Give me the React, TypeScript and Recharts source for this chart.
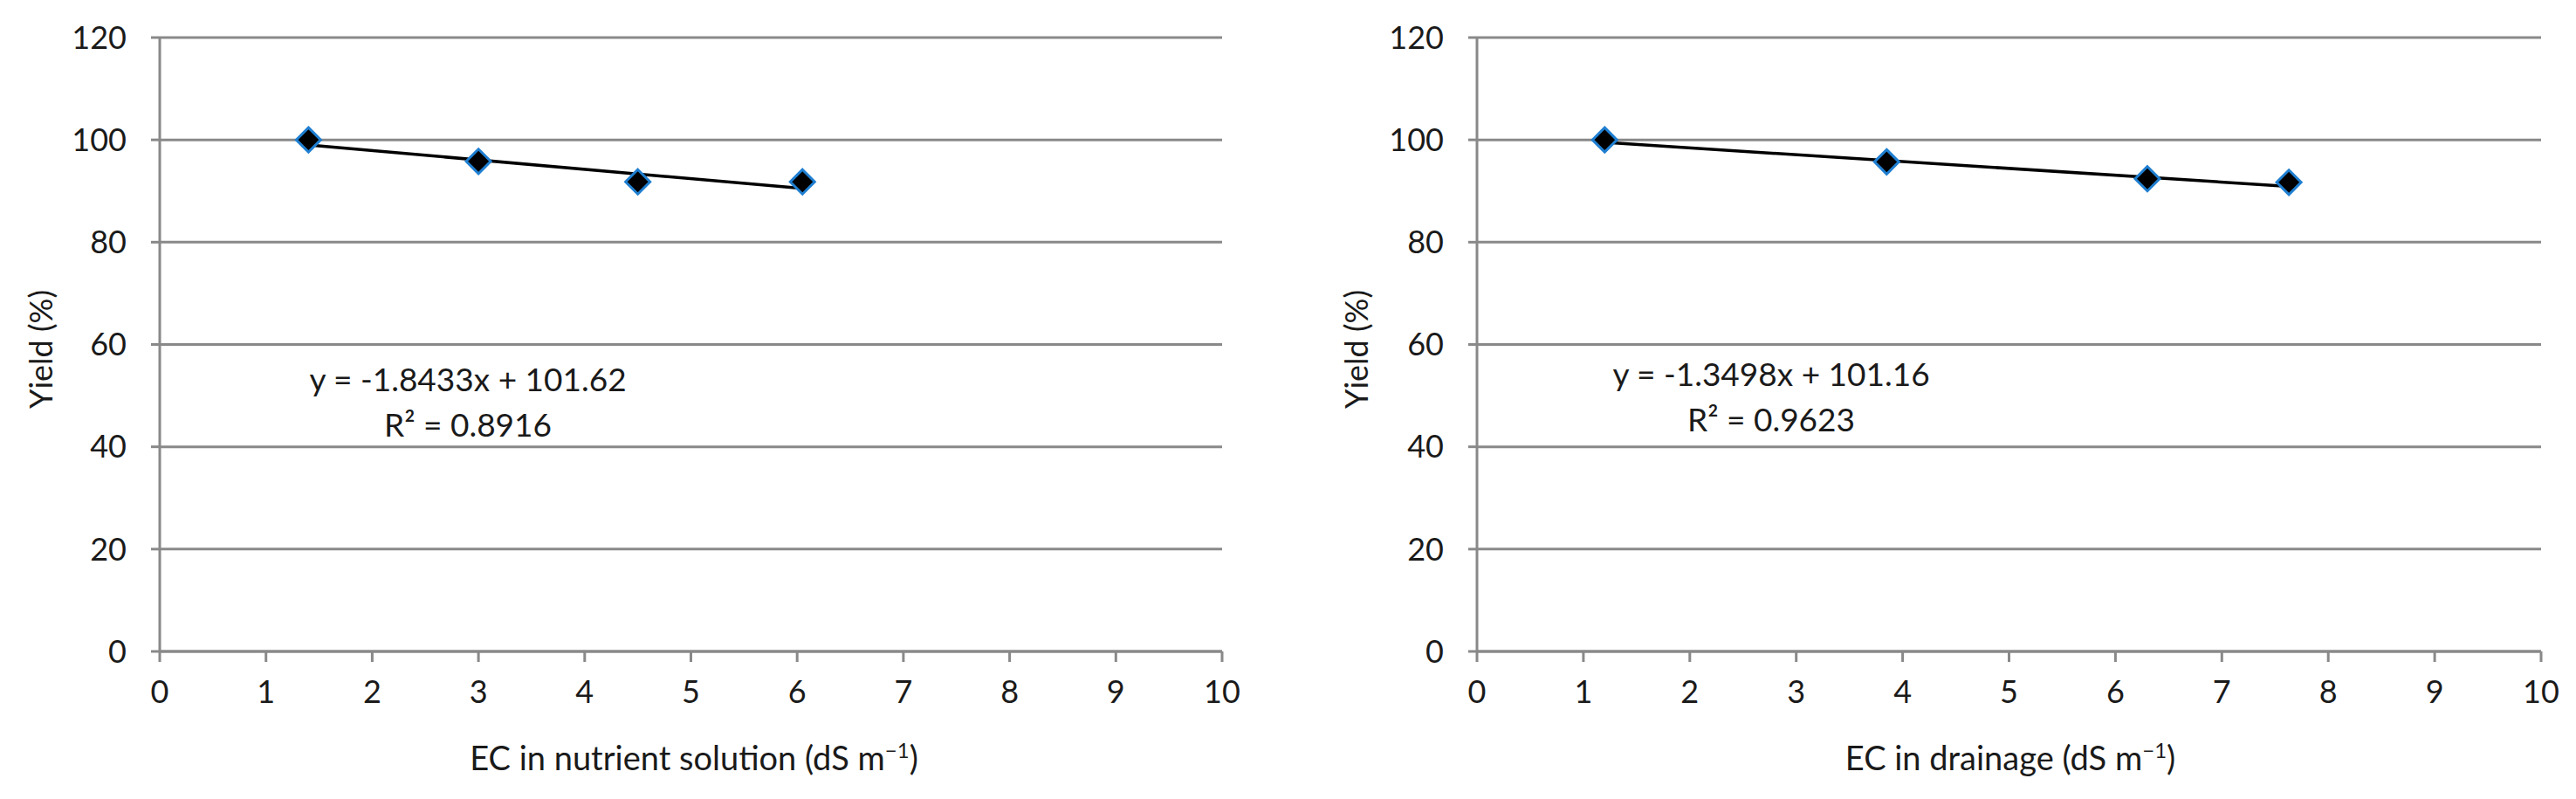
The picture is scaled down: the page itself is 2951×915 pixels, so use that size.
import { ScatterChart, Scatter, XAxis, YAxis, CartesianGrid } from 'recharts';

const xTicks = [0, 1, 2, 3, 4, 5, 6, 7, 8, 9, 10];
const yTicks = [0, 20, 40, 60, 80, 100, 120];

const solutionEC = [1.4, 3.0, 4.5, 6.05];
const solutionYield = [100, 95.8, 91.8, 91.8];
const drainageEC = [1.2, 3.85, 6.3, 7.63];
const drainageYield = [100, 95.7, 92.4, 91.7];

// ends of the fitted trendlines as drawn in the figure
const solutionTrendEC = [1.4, 6.05];
const solutionTrendYield = [99.0, 90.5];
const drainageTrendEC = [1.2, 7.63];
const drainageTrendYield = [99.5, 90.9];

const solutionEquation = 'y = -1.8433x + 101.62';
const solutionR2 = 'R² = 0.8916';
const drainageEquation = 'y = -1.3498x + 101.16';
const drainageR2 = 'R² = 0.9623';

const grid = '#898989';
const font = 'Lato, "Open Sans", sans-serif';

const zip = (xs: number[], ys: number[]) => xs.map((x, i) => ({ x, y: ys[i] }));

function Diamond(props: any) {
  const { cx, cy } = props;
  if (cx == null || cy == null) return <g />;
  const r = 14;
  return (
    <path
      d={`M${cx},${cy - r} L${cx + r},${cy} L${cx},${cy + r} L${cx - r},${cy} Z`}
      fill="#000"
      stroke="#1f7fd1"
      strokeWidth={3}
    />
  );
}

interface PanelProps {
  width: number;
  axisWidth: number;
  right: number;
  points: { x: number; y: number }[];
  trend: { x: number; y: number }[];
}

function Panel({ width, axisWidth, right, points, trend }: PanelProps) {
  const tick = { fill: '#1a1a1a', fontSize: 36, fontFamily: font };
  return (
    <ScatterChart width={width} height={915} margin={{ top: 43, right, left: 0, bottom: 0 }}>
      <CartesianGrid vertical={false} stroke={grid} strokeWidth={3} />
      <XAxis
        type="number"
        dataKey="x"
        domain={[0, 10]}
        ticks={xTicks}
        interval={0}
        height={169}
        axisLine={{ stroke: grid, strokeWidth: 3 }}
        tickLine={{ stroke: grid, strokeWidth: 3 }}
        tickSize={12}
        tickMargin={21}
        tick={tick}
      />
      <YAxis
        type="number"
        dataKey="y"
        domain={[0, 120]}
        ticks={yTicks}
        interval={0}
        width={axisWidth}
        axisLine={{ stroke: grid, strokeWidth: 3 }}
        tickLine={{ stroke: grid, strokeWidth: 3 }}
        tickSize={10}
        tickMargin={28}
        tick={tick}
      />
      <Scatter
        data={trend}
        line={{ stroke: '#000', strokeWidth: 3.5 }}
        shape={() => <g />}
        isAnimationActive={false}
      />
      <Scatter data={points} shape={Diamond} isAnimationActive={false} />
    </ScatterChart>
  );
}

function Unit({ x, y, label }: { x: number; y: number; label: string }) {
  return (
    <text x={x} y={y} textAnchor="middle" fontSize={38} fontFamily={font} fill="#1a1a1a">
      {label} (dS m
      <tspan dy={-14} fontSize={24}>
        −1
      </tspan>
      <tspan dy={14}>)</tspan>
    </text>
  );
}

export default function App() {
  const eq = { fontSize: 37, fontFamily: font, fill: '#1a1a1a', textAnchor: 'middle' as const };
  return (
    <div style={{ position: 'absolute', left: 0, top: 0, width: 2951, height: 915, background: '#fff' }}>
      <div style={{ position: 'absolute', left: 0, top: 0 }}>
        <Panel
          width={1475}
          axisWidth={183}
          right={75}
          points={zip(solutionEC, solutionYield)}
          trend={zip(solutionTrendEC, solutionTrendYield)}
        />
      </div>
      <div style={{ position: 'absolute', left: 1475, top: 0 }}>
        <Panel
          width={1476}
          axisWidth={217}
          right={40}
          points={zip(drainageEC, drainageYield)}
          trend={zip(drainageTrendEC, drainageTrendYield)}
        />
      </div>
      <svg
        width={2951}
        height={915}
        style={{ position: 'absolute', left: 0, top: 0, pointerEvents: 'none' }}
      >
        <text x={60} y={400} transform="rotate(-90 60 400)" textAnchor="middle" fontSize={36} fontFamily={font} fill="#1a1a1a">
          Yield (%)
        </text>
        <text x={1567} y={400} transform="rotate(-90 1567 400)" textAnchor="middle" fontSize={36} fontFamily={font} fill="#1a1a1a">
          Yield (%)
        </text>
        <Unit x={795} y={882} label="EC in nutrient solution" />
        <Unit x={2303} y={882} label="EC in drainage" />
        <text x={536} y={448} {...eq}>{solutionEquation}</text>
        <text x={536} y={500} {...eq}>{solutionR2}</text>
        <text x={2029} y={442} {...eq}>{drainageEquation}</text>
        <text x={2029} y={494} {...eq}>{drainageR2}</text>
      </svg>
    </div>
  );
}
